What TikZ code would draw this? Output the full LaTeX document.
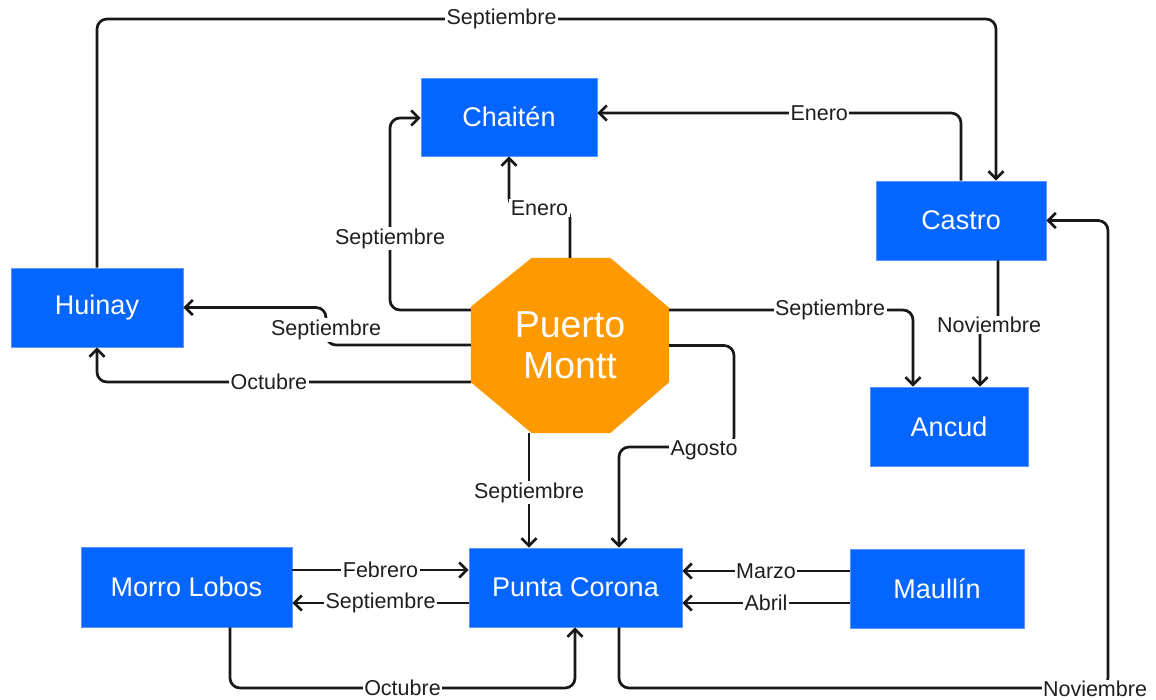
\documentclass[tikz,border=0pt]{standalone}
\usepackage{fontspec}
\setmainfont{Liberation Sans}
\usetikzlibrary{arrows.meta}
\pgfdeclarelayer{background}
\pgfsetlayers{background,main}
\definecolor{boxblue}{RGB}{5,102,255}
\definecolor{boxline}{RGB}{90,150,255}
\definecolor{pmorange}{RGB}{255,153,0}
\definecolor{linegray}{RGB}{24,24,24}
\tikzset{
  town/.style={rectangle,fill=boxblue,draw=boxline,line width=0.8pt,text=white,
    font=\fontsize{27}{32}\selectfont,inner sep=0pt},
  link/.style={->,>={Straight Barb[length=7.5pt,width=15pt]},line width=2.7pt,
    draw=linegray,rounded corners=10pt},
  lbl/.style={fill=white,text=black!88,font=\fontsize{21.5}{24}\selectfont,
    inner sep=1.5pt,rounded corners=0pt}
}

\begin{document}
\begin{tikzpicture}[x=1pt,y=-1pt]
\useasboundingbox (0,0) rectangle (1156,700);

\node[town,minimum width=176pt,minimum height=78pt] (Ch) at (509,117) {Chaitén};
\node[town,minimum width=170pt,minimum height=79pt] (Ca) at (961,220.5) {Castro};
\node[town,minimum width=172pt,minimum height=79pt] (Hu) at (97,307.5) {Huinay};
\node[town,minimum width=158pt,minimum height=79pt] (An) at (949,426.5) {Ancud};
\node[town,minimum width=174pt,minimum height=79pt] (Ma) at (937,588.5) {Maullín};
\node[town,minimum width=213pt,minimum height=79pt] (PC) at (575.5,587.5) {Punta Corona};
\node[town,minimum width=211pt,minimum height=80pt] (ML) at (186.5,587) {Morro Lobos};

\node[text=white,align=center,font=\fontsize{37.5}{41}\selectfont,
  minimum width=198pt,minimum height=175pt,inner sep=0pt] (PM) at (570,345.5) {Puerto\\Montt};
\begin{pgfonlayer}{background}
\fill[pmorange] ([xshift=61pt]PM.north west) -- ([xshift=-59pt]PM.north east)
  -- ([yshift=-50pt]PM.north east) -- ([yshift=51pt]PM.south east)
  -- ([xshift=-59pt]PM.south east) -- ([xshift=61pt]PM.south west)
  -- ([yshift=51pt]PM.south west) -- ([yshift=-49pt]PM.north west) -- cycle;
\end{pgfonlayer}

\draw[link] (Hu.north) -- (97,19) -- node[lbl,pos=0.45]{Septiembre} (996,19) -- (Ca.north -| 996,0);
\draw[link] (Ca.north) -- (961,113) -- node[lbl,pos=0.39]{Enero} (Ch.east |- 0,113);
\draw[link] (PM.north) -- (570,208) -- node[lbl]{Enero} (509,208) -- (Ch.south);
\draw[link] (PM.west |- 0,310) -- (390,310) -- node[lbl,pos=0.37]{Septiembre} (390,118) -- (Ch.west |- 0,118);
\draw[link] (PM.west |- 0,345) -- (326,345) -- node[lbl,pos=0.4]{Septiembre} (326,307.5) -- (Hu.east);
\draw[link] (PM.west |- 0,382) -- node[lbl,pos=0.54]{Octubre} (97,382) -- (Hu.south);
\draw[link] (PM.south -| 529,0) -- node[lbl,pos=0.52]{Septiembre} (PC.north -| 529,0);
\draw[link] (PM.east) -- (734,345.5) -- (734,447) -- (619,447) -- (PC.north -| 619,0);
\draw[link] (PM.east |- 0,310) -- node[lbl,pos=0.66]{Septiembre} (913,310) -- (An.north -| 913,0);
\draw[link] (Ca.south -| 998,0) -- (998,325) -- node[lbl]{Noviembre} (980,325) -- (An.north -| 980,0);
\draw[link] (PC.south -| 619,0) -- (619,688) -- (1108,688) -- (1108,220.5) -- (Ca.east);
\draw[link] (ML.east |- 0,570) -- node[lbl]{Febrero} (PC.west |- 0,570);
\draw[link] (PC.west |- 0,603) -- node[lbl]{Septiembre} (ML.east |- 0,603);
\draw[link] (ML.south -| 230,0) -- (230,688) -- node[lbl]{Octubre} (575,688) -- (PC.south -| 575,0);
\draw[link] (Ma.west |- 0,571) -- node[lbl]{Marzo} (PC.east |- 0,571);
\draw[link] (Ma.west |- 0,603) -- node[lbl]{Abril} (PC.east |- 0,603);

\node[lbl] (lAgo) at (704,450) {Agosto};
\node[lbl] (lNov) at (1095,689) {Noviembre};
\end{tikzpicture}
\end{document}
